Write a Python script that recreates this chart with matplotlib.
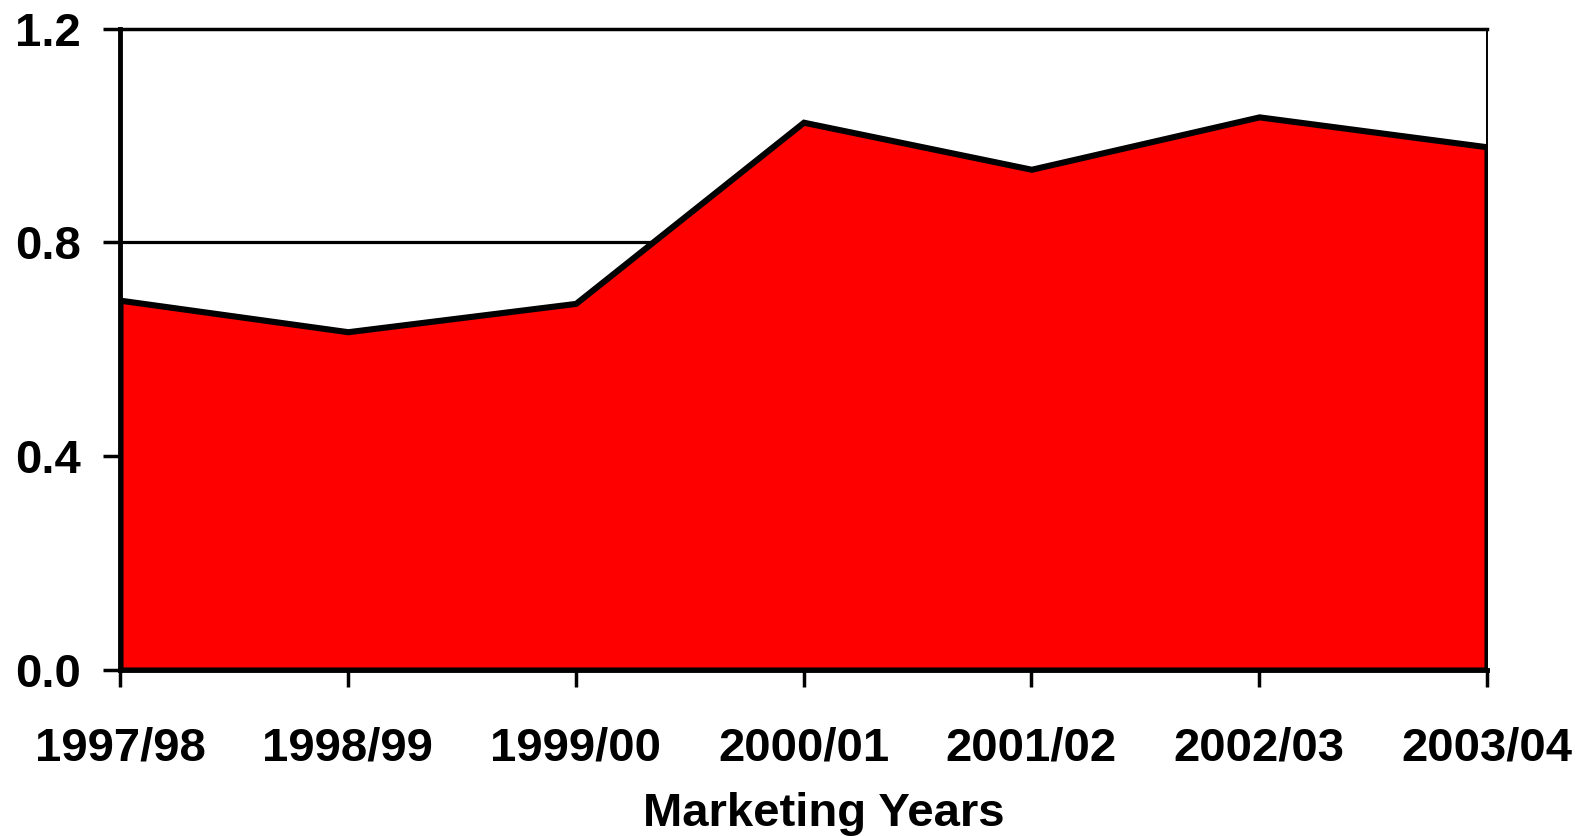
import matplotlib
matplotlib.use("Agg")
import matplotlib.pyplot as plt

years = ["1997/98", "1998/99", "1999/00", "2000/01", "2001/02", "2002/03", "2003/04"]
values = [0.692, 0.633, 0.686, 1.025, 0.937, 1.035, 0.979]
yticks = [0.0, 0.4, 0.8, 1.2]
ytick_labels = ["0.0", "0.4", "0.8", "1.2"]
xlabel = "Marketing Years"

plt.rcParams['font.family'] = ['Liberation Sans', 'DejaVu Sans']
plt.rcParams['font.weight'] = 'bold'

FS = 34

fig = plt.figure(figsize=(15.86, 8.36), dpi=100)
ax = fig.add_axes([120/1586, 1-670/836, (1487-120)/1586, (670-28.7)/836])

x = list(range(len(years)))
ax.set_xlim(0, len(years) - 1)
ax.set_ylim(0, 1.2)

for yv in yticks[1:-1]:
    ax.axhline(yv, color='black', lw=2.3, zorder=1)

ax.fill_between(x, values, 0, facecolor='#ff0000', edgecolor='black',
                linewidth=4.4, joinstyle='miter', zorder=2)

ax.set_xticks(x)
ax.set_xticklabels(years, fontsize=FS, fontweight='bold')
ax.set_yticks(yticks)
ax.set_yticklabels(ytick_labels, fontsize=FS, fontweight='bold')

ax.tick_params(axis='x', direction='out', length=12, width=2.5, pad=29)
ax.tick_params(axis='y', direction='out', length=12, width=2.5, pad=16)

ax.spines['top'].set_linewidth(2.5)
ax.spines['left'].set_linewidth(3.5)
ax.spines['bottom'].set_linewidth(3.5)
ax.spines['right'].set_linewidth(1.4)
for s in ax.spines.values():
    s.set_zorder(3)

fig.text(824/1586, 1-826/836, xlabel, ha='center', va='baseline',
         fontsize=FS, fontweight='bold')

fig.savefig("out.png", dpi=100, facecolor='white')
